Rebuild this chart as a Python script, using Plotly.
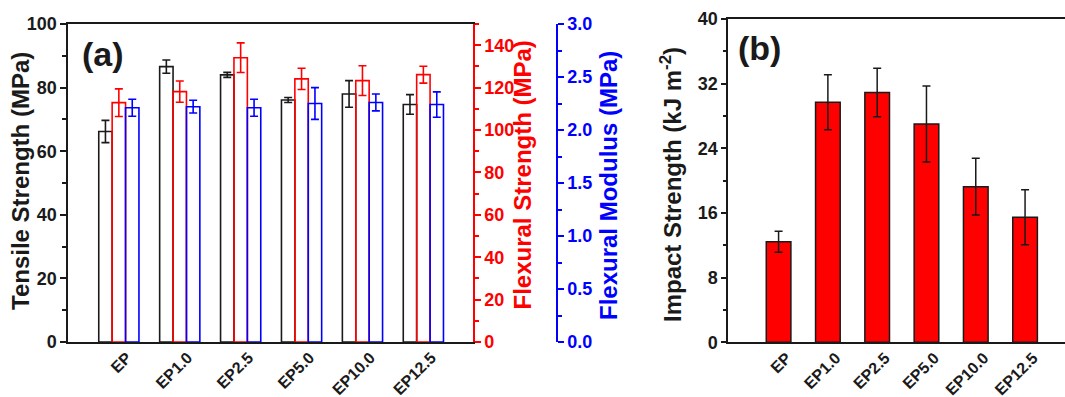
import plotly.graph_objects as go

categories = ["EP", "EP1.0", "EP2.5", "EP5.0", "EP10.0", "EP12.5"]

tensile = [66.2, 86.6, 84.0, 76.1, 78.0, 74.7]
tensile_err = [3.5, 2.1, 0.8, 0.8, 4.2, 3.1]

flex_strength = [112.9, 118.1, 134.1, 124.1, 123.3, 126.1]
flex_strength_err = [6.5, 5.0, 7.0, 5.0, 7.0, 4.0]

flex_modulus = [2.21, 2.22, 2.21, 2.25, 2.26, 2.24]
flex_modulus_err = [0.08, 0.06, 0.08, 0.15, 0.08, 0.12]

impact = [12.45, 29.7, 30.9, 27.0, 19.26, 15.47]
impact_err = [1.3, 3.4, 3.0, 4.7, 3.5, 3.4]

W, H = 1065, 397
FONT = "Liberation Sans, Arial, sans-serif"
BLACK = "#1a1a1a"
RED = "#ff0000"
BLUE = "#0000ff"

def px(x):
    return x / W

def py(y):
    return 1 - y / H

fig = go.Figure()

bw = 0.22
for vals, errs, col, off, ya in [
    (tensile, tensile_err, BLACK, -1.5 * bw, "y"),
    (flex_strength, flex_strength_err, RED, -0.5 * bw, "y2"),
    (flex_modulus, flex_modulus_err, BLUE, 0.5 * bw, "y3"),
]:
    fig.add_trace(go.Bar(
        x=categories, y=vals, xaxis="x", yaxis=ya,
        width=bw, offset=off,
        marker=dict(color="rgba(255,255,255,0)", line=dict(color=col, width=1.6)),
        error_y=dict(type="data", array=errs, color=col, thickness=1.6, width=4),
        showlegend=False,
    ))

fig.add_trace(go.Bar(
    x=categories, y=impact, xaxis="x4", yaxis="y4",
    width=0.5,
    marker=dict(color=RED, line=dict(color=BLACK, width=1.5)),
    error_y=dict(type="data", array=impact_err, color=BLACK, thickness=1.5, width=4),
    showlegend=False,
))

tickfont = dict(family=FONT, size=18, weight="bold")
xtickfont = dict(family=FONT, size=16, weight="bold", color=BLACK)

common_y = dict(showgrid=False, zeroline=False, showline=True, linewidth=2,
                ticks="outside", ticklen=6, tickwidth=1.5, automargin=False)

fig.update_layout(
    width=W, height=H,
    margin=dict(l=0, r=0, t=0, b=0),
    plot_bgcolor="white", paper_bgcolor="white",
    barmode="overlay",
    showlegend=False,
    xaxis=dict(domain=[px(68.3), px(472.7)], range=[-0.83, 5.81], anchor="y",
               showgrid=False, zeroline=False, showline=True, linewidth=2,
               linecolor=BLACK, mirror=True, ticks="", tickangle=-45,
               tickfont=xtickfont, automargin=False, ticklabelshift=8,
               ticklabelstandoff=-2),
    yaxis=dict(domain=[py(342), py(24)], range=[0, 100], dtick=20,
               linecolor=BLACK, tickcolor=BLACK, tickfont=dict(tickfont, color=BLACK),
               minor=dict(dtick=10, ticklen=4, tickcolor=BLACK, ticks="outside", tickwidth=1.5),
               **common_y),
    yaxis2=dict(overlaying="y", side="right", anchor="x", range=[0, 150], dtick=20,
                linecolor=RED, tickcolor=RED, tickfont=dict(tickfont, color=RED),
                minor=dict(dtick=10, ticklen=4, tickcolor=RED, ticks="outside", tickwidth=1.5),
                **common_y),
    yaxis3=dict(overlaying="y", side="right", anchor="free", position=px(556.7),
                range=[0, 3], dtick=0.5, tickformat=".1f",
                linecolor=BLUE, tickcolor=BLUE, tickfont=dict(tickfont, color=BLUE),
                minor=dict(dtick=0.25, ticklen=4, tickcolor=BLUE, ticks="outside", tickwidth=1.5),
                **common_y),
    xaxis4=dict(domain=[px(728.3), 1.0], range=[-1.02, 5.81], anchor="y4",
                showgrid=False, zeroline=False, showline=True, linewidth=2,
                linecolor=BLACK, mirror=True, ticks="", tickangle=-45,
                tickfont=xtickfont, automargin=False, ticklabelshift=8,
                ticklabelstandoff=-2),
    yaxis4=dict(domain=[py(342.3), py(19)], range=[0, 40], dtick=8, anchor="x4",
                linecolor=BLACK, tickcolor=BLACK, tickfont=dict(tickfont, color=BLACK),
                minor=dict(dtick=4, ticklen=3, tickcolor=BLACK, ticks="outside", tickwidth=1.5),
                **dict(common_y, ticklen=5)),
)

annos = [
    dict(text="Tensile Strength (MPa)", x=px(20.5), y=py(181.5), color=BLACK, angle=-90, size=24),
    dict(text="Flexural Strength (MPa)", x=px(521.5), y=py(175), color=RED, angle=-90, size=24),
    dict(text="Flexural Modulus (MPa)", x=px(608), y=py(186), color=BLUE, angle=-90, size=24),
    dict(text="Impact Strength (kJ m<sup>-2</sup>)", x=px(671), y=py(185), color=BLACK, angle=-90, size=24),
    dict(text="(a)", x=px(102.5), y=py(53.5), color=BLACK, angle=0, size=34),
    dict(text="(b)", x=px(759), y=py(48.5), color=BLACK, angle=0, size=34),
]
for a in annos:
    fig.add_annotation(
        text=a["text"], x=a["x"], y=a["y"], xref="paper", yref="paper",
        xanchor="center", yanchor="middle", showarrow=False, textangle=a["angle"],
        font=dict(family=FONT, size=a["size"], weight="bold", color=a["color"]),
    )

fig.write_html("out.html")
